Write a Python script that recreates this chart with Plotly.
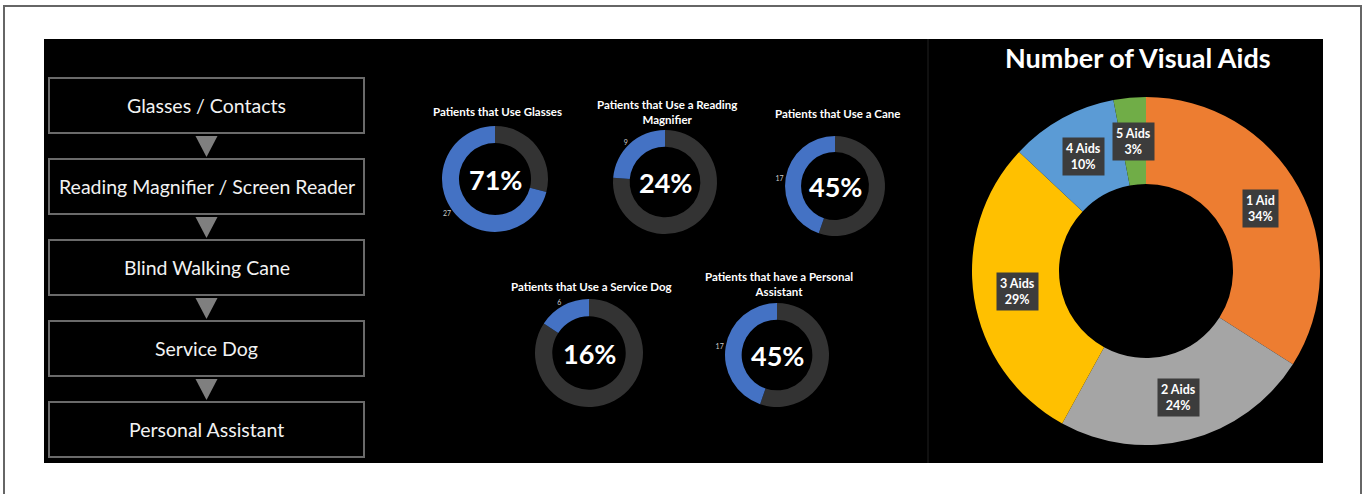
import math
import plotly.graph_objects as go

W, H = 1365, 494

# ---------------- data ----------------
flow_steps = ["Glasses / Contacts", "Reading Magnifier / Screen Reader",
              "Blind Walking Cane", "Service Dog", "Personal Assistant"]

small_titles = ["Patients that Use Glasses",
                "Patients that Use a Reading<br>Magnifier",
                "Patients that Use a Cane",
                "Patients that Use a Service Dog",
                "Patients that have a Personal<br>Assistant"]
users = [27, 9, 17, 6, 17]
non_users = [11, 29, 21, 32, 21]

aid_labels = ["1 Aid", "2 Aids", "3 Aids", "4 Aids", "5 Aids"]
aid_pct = [34, 24, 29, 10, 3]
aid_colors = ["#ED7D31", "#A5A5A5", "#FFC000", "#5B9BD5", "#70AD47"]

# ---------------- layout helpers ----------------
FONT = "Lato"


def dom(cx, cy, r):
    return dict(x=[(cx - r) / W, (cx + r) / W], y=[1 - (cy + r) / H, 1 - (cy - r) / H])


fig = go.Figure()
shapes = []
annotations = []

# outer frame and black panel
shapes.append(dict(type="rect", x0=4, x1=1361, y0=6, y1=520, line=dict(color="#666", width=2),
                   fillcolor="white", layer="below"))
shapes.append(dict(type="rect", x0=44, x1=1323, y0=39, y1=463, line=dict(width=0),
                   fillcolor="black", layer="below"))
shapes.append(dict(type="line", x0=928, x1=928, y0=39, y1=463, line=dict(color="#161616", width=1.5),
                   layer="below"))

# flowchart
box_x0, box_x1 = 49, 364
box_top, box_h, box_gap = 78, 55, 26
for i, step in enumerate(flow_steps):
    y0 = box_top + i * (box_h + box_gap)
    y1 = y0 + box_h
    shapes.append(dict(type="rect", x0=box_x0, x1=box_x1, y0=y0, y1=y1,
                       line=dict(color="#6a6a6a", width=2), fillcolor="black"))
    annotations.append(dict(x=(box_x0 + box_x1) / 2, y=(y0 + y1) / 2, xref="x", yref="y",
                            text=step, showarrow=False,
                            font=dict(family=FONT, size=19.5, color="#f2f2f2")))
    if i < len(flow_steps) - 1:
        ty0 = y1 + 3
        ty1 = y1 + box_gap - 2
        cx = (box_x0 + box_x1) / 2
        shapes.append(dict(type="path",
                           path=f"M {cx-11},{ty0} L {cx+11},{ty0} L {cx},{ty1} Z",
                           fillcolor="#7f7f7f", line=dict(width=0)))

# small donuts
small_pos = [(495, 179, 53), (665, 182, 52), (835, 186, 50), (589, 353, 54), (777, 355, 52)]
title_y = [111, 112, 113, 286, 284]
for i in range(5):
    cx, cy, r = small_pos[i]
    total = users[i] + non_users[i]
    pct = round(100 * users[i] / total)
    fig.add_trace(go.Pie(
        values=[non_users[i], users[i]], labels=["No", "Yes"],
        hole=0.68, sort=False, direction="clockwise", rotation=0,
        marker=dict(colors=["#333333", "#4472C4"], line=dict(width=0)),
        texttemplate="%{value}", textposition=["none", "outside"],
        outsidetextfont=dict(family=FONT, size=7, color="#cccccc"),
        domain=dom(cx, cy, r), showlegend=False, hoverinfo="label+value",
        automargin=False))
    annotations.append(dict(x=cx, y=cy, xref="x", yref="y", text=f"<b>{pct}%</b>",
                            showarrow=False, font=dict(family=FONT, size=27, color="white")))
    annotations.append(dict(x=cx + 2, y=title_y[i], xref="x", yref="y", text=f"<b>{small_titles[i]}</b>",
                            showarrow=False, font=dict(family=FONT, size=11.5, color="white")))

# big donut
bcx, bcy, br = 1146, 271, 174
fig.add_trace(go.Pie(
    values=aid_pct, labels=aid_labels, hole=0.5, sort=False, direction="clockwise", rotation=0,
    marker=dict(colors=aid_colors, line=dict(width=0)), textinfo="none",
    domain=dom(bcx, bcy, br), showlegend=False, automargin=False))
annotations.append(dict(x=1138, y=57, xref="x", yref="y", text="<b>Number of Visual Aids</b>",
                        showarrow=False, font=dict(family=FONT, size=27, color="white")))

tot = sum(aid_pct)
cum = 0
rmid = br * 0.75
for lab, v in zip(aid_labels, aid_pct):
    ang = (cum + v / 2) / tot * 2 * math.pi
    cum += v
    x = bcx + rmid * math.sin(ang)
    y = bcy - rmid * math.cos(ang)
    annotations.append(dict(x=x, y=y, xref="x", yref="y", text=f"<b>{lab}<br>{v}%</b>",
                            showarrow=False, bgcolor="#3c3c3c", borderpad=3,
                            font=dict(family=FONT, size=12.5, color="white")))

fig.update_layout(
    width=W, height=H, margin=dict(l=0, r=0, t=0, b=0),
    paper_bgcolor="white", plot_bgcolor="rgba(0,0,0,0)",
    xaxis=dict(range=[0, W], visible=False, fixedrange=True, domain=[0, 1]),
    yaxis=dict(range=[H, 0], visible=False, fixedrange=True, domain=[0, 1]),
    shapes=shapes, annotations=annotations,
)

fig.write_html("out.html")
